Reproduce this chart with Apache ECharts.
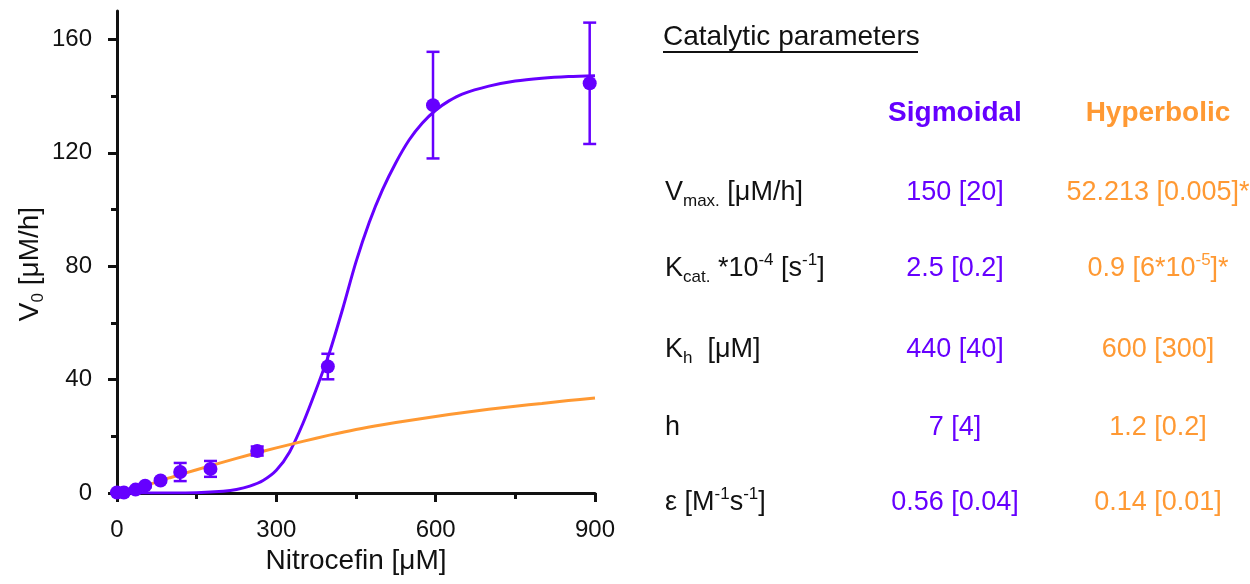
<!DOCTYPE html>
<html>
<head>
<meta charset="utf-8">
<script src="https://cdn.jsdelivr.net/npm/echarts@6/dist/echarts.min.js"></script>
<style>
html,body{margin:0;padding:0;background:#ffffff;}
#chart{width:1250px;height:584px;}
</style>
</head>
<body>
<div id="chart"></div>
<script>
// ---------------- data ----------------
const xTicks = [0, 300, 600, 900];
const yTicks = [0, 40, 80, 120, 160];
const yMinorTicks = [20, 60, 100, 140];

// measured initial velocities (mean, error)
const obsX   = [0, 13, 35, 53, 82, 119, 176, 264, 397, 595, 890];
const obsY   = [0.2, 0.2, 1.2, 2.6, 4.4, 7.4, 8.5, 14.8, 44.6, 136.8, 144.5];
const obsErr = [0.2, 0.2, 0.4, 0.6, 0.6, 3.2, 2.8, 1.6, 4.5, 18.8, 21.4];

// fitted sigmoidal curve
const sigX = [0, 50, 100, 150, 200, 225, 250, 275, 300, 325, 350, 375, 400, 425, 450, 475, 500, 525, 550, 575, 600, 625, 650, 700, 750, 800, 850, 900];
const sigY = [0, 0, 0, 0.1, 0.6, 1.2, 2.4, 4.4, 8.0, 14.5, 24.5, 36.5, 49.5, 65, 81.5, 95.5, 107, 116.5, 124.5, 130.5, 135, 138.3, 140.7, 143.5, 145.3, 146.3, 146.9, 147.2];

// fitted hyperbolic curve
const hypX = [0, 50, 100, 150, 200, 250, 300, 350, 400, 450, 500, 550, 600, 650, 700, 750, 800, 850, 900];
const hypY = [0, 2.4, 5.4, 8.2, 10.9, 13.5, 15.9, 18.2, 20.4, 22.4, 24.1, 25.6, 27.0, 28.3, 29.5, 30.6, 31.6, 32.6, 33.5];

const xTitle = 'Nitrocefin [μM]';
const yTitle = '{t|V}{sub|0}{t| [μM/h]}';
const tableTitle = 'Catalytic parameters';
const colHeaders = ['Sigmoidal', 'Hyperbolic'];
const paramLabels = [
  '{t|V}{sub|max.}{t| [μM/h]}',
  '{t|K}{sub|cat.}{t| *10}{sup|-4}{t| [s}{sup|-1}{t|]}',
  '{t|K}{sub|h}{t|  [μM]}',
  '{t|h}',
  '{t|ε [M}{sup|-1}{t|s}{sup|-1}{t|]}'
];
const sigmoidalVals = ['{t|150 [20]}', '{t|2.5 [0.2]}', '{t|440 [40]}', '{t|7 [4]}', '{t|0.56 [0.04]}'];
const hyperbolicVals = ['{t|52.213 [0.005]*}', '{t|0.9 [6*10}{sup|-5}{t|]*}', '{t|600 [300]}', '{t|1.2 [0.2]}', '{t|0.14 [0.01]}'];

// ---------------- style ----------------
const PURPLE = '#6600ff';
const ORANGE = '#ff9933';
const INK = '#111111';
const FONT = 'Liberation Sans, Arial, sans-serif';

function richFor(color, size) {
  return {
    t:   {fontFamily: FONT, fontSize: size, fill: color, lineHeight: 34},
    sub: {fontFamily: FONT, fontSize: Math.round(size * 0.62), fill: color, lineHeight: 18, verticalAlign: 'bottom'},
    sup: {fontFamily: FONT, fontSize: Math.round(size * 0.62), fill: color, lineHeight: 18, verticalAlign: 'top'}
  };
}

const rowY = [193, 269, 350, 428, 503];
const colX = [955, 1158];
const labelX = 665;

const graphics = [];
// y axis title
graphics.push({
  type: 'text', x: 30, y: 264, rotation: Math.PI / 2,
  style: {text: yTitle, align: 'center', verticalAlign: 'middle', rich: richFor(INK, 28)}
});
// table title + underline
graphics.push({
  type: 'text', x: 663, y: 37,
  style: {text: tableTitle, align: 'left', verticalAlign: 'middle', fontFamily: FONT, fontSize: 28, fill: INK}
});
graphics.push({
  type: 'line', shape: {x1: 663, y1: 52, x2: 918, y2: 52},
  style: {stroke: INK, lineWidth: 2}
});
// column headers
colHeaders.forEach((h, i) => {
  graphics.push({
    type: 'text', x: colX[i], y: 113,
    style: {text: h, align: 'center', verticalAlign: 'middle', fontFamily: FONT, fontSize: 28,
            fontWeight: 'bold', fill: i === 0 ? PURPLE : ORANGE}
  });
});
// rows
paramLabels.forEach((lab, r) => {
  graphics.push({
    type: 'text', x: labelX, y: rowY[r],
    style: {text: lab, align: 'left', verticalAlign: 'middle', rich: richFor(INK, 27)}
  });
  graphics.push({
    type: 'text', x: colX[0], y: rowY[r],
    style: {text: sigmoidalVals[r], align: 'center', verticalAlign: 'middle', rich: richFor(PURPLE, 27)}
  });
  graphics.push({
    type: 'text', x: colX[1], y: rowY[r],
    style: {text: hyperbolicVals[r], align: 'center', verticalAlign: 'middle', rich: richFor(ORANGE, 27)}
  });
});

const axisLineStyle = {color: INK, width: 3};

const option = {
  animation: false,
  backgroundColor: '#ffffff',
  grid: {left: 117, right: 655, top: 11, bottom: 91, containLabel: false},
  xAxis: {
    type: 'value', min: 0, max: 900, interval: 300,
    axisLine: {show: true, lineStyle: axisLineStyle},
    axisTick: {show: true, length: 9, lineStyle: {color: INK, width: 3}},
    minorTick: {show: true, splitNumber: 2, length: 6, lineStyle: {color: INK, width: 3}},
    axisLabel: {fontFamily: FONT, fontSize: 24, color: INK, margin: 25,
                customValues: xTicks},
    splitLine: {show: false},
    name: xTitle, nameLocation: 'middle', nameGap: 54,
    nameTextStyle: {fontFamily: FONT, fontSize: 28, color: INK}
  },
  yAxis: [
    {
      type: 'value', min: 0, max: 170, interval: 40,
      axisLine: {show: true, lineStyle: axisLineStyle},
      axisTick: {show: true, length: 9, lineStyle: {color: INK, width: 3}, customValues: yTicks},
      axisLabel: {fontFamily: FONT, fontSize: 24, color: INK, margin: 25, customValues: yTicks},
      splitLine: {show: false}
    },
    {
      type: 'value', min: 0, max: 170, position: 'left',
      axisLine: {show: false},
      axisTick: {show: true, length: 6, lineStyle: {color: INK, width: 3}, customValues: yMinorTicks},
      axisLabel: {show: false},
      splitLine: {show: false}
    }
  ],
  series: [
    {
      type: 'line', name: 'Sigmoidal', data: sigX.map((x, i) => [x, sigY[i]]),
      smooth: 0.3, showSymbol: false,
      lineStyle: {color: PURPLE, width: 3}, z: 2
    },
    {
      type: 'line', name: 'Hyperbolic', data: hypX.map((x, i) => [x, hypY[i]]),
      smooth: 0.3, showSymbol: false,
      lineStyle: {color: ORANGE, width: 3}, z: 3
    },
    {
      type: 'custom', name: 'error', z: 4,
      data: obsX.map((x, i) => [x, obsY[i], obsErr[i]]),
      encode: {x: 0, y: 1},
      renderItem: function (params, api) {
        const x = api.value(0), y = api.value(1), e = api.value(2);
        const hi = api.coord([x, y + e]);
        const lo = api.coord([x, y - e]);
        const w = 6.5;
        const st = {stroke: PURPLE, lineWidth: 2.5};
        return {
          type: 'group',
          children: [
            {type: 'line', shape: {x1: hi[0], y1: hi[1], x2: lo[0], y2: lo[1]}, style: st},
            {type: 'line', shape: {x1: hi[0] - w, y1: hi[1], x2: hi[0] + w, y2: hi[1]}, style: st},
            {type: 'line', shape: {x1: lo[0] - w, y1: lo[1], x2: lo[0] + w, y2: lo[1]}, style: st}
          ]
        };
      }
    },
    {
      type: 'scatter', name: 'data', data: obsX.map((x, i) => [x, obsY[i]]),
      symbol: 'circle', symbolSize: 14, itemStyle: {color: PURPLE, opacity: 1}, z: 5
    }
  ],
  graphic: graphics
};

const chart = echarts.init(document.getElementById('chart'), null, {renderer: 'canvas'});
chart.setOption(option);
</script>
</body>
</html>
